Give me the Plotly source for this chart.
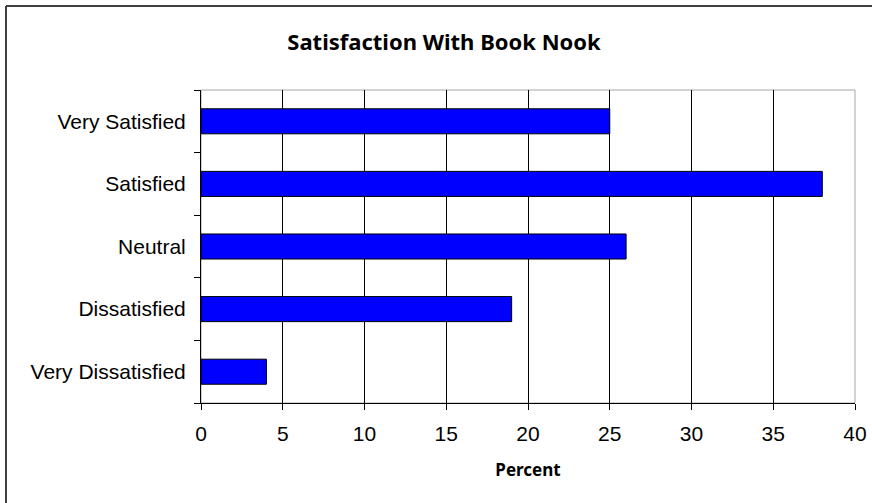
import plotly.graph_objects as go

# Survey responses (percent)
categories = ["Very Dissatisfied", "Dissatisfied", "Neutral", "Satisfied", "Very Satisfied"]
percents = [4, 19, 26, 38, 25]
x_ticks = [0, 5, 10, 15, 20, 25, 30, 35, 40]

W, H = 872, 503
ML, MR, MT, MB = 201, 17, 90, 100
PW, PH = W - ML - MR, H - MT - MB


def px_x(px):
    return (px - ML) / PW


def px_y(py):
    return (H - MB - py) / PH


fig = go.Figure(
    go.Bar(
        x=percents,
        y=categories,
        orientation="h",
        width=0.4,
        marker=dict(color="#0000FF", line=dict(color="#000000", width=1)),
        hoverinfo="x+y",
    )
)

shapes = [
    # plot-area frame (top/right edges in grey)
    dict(type="rect", xref="paper", yref="paper", x0=0, x1=1, y0=0, y1=1,
         line=dict(color="#a6a6a6", width=1), layer="below"),
    # outer chart frame
    dict(type="line", xref="paper", yref="paper",
         x0=px_x(6), x1=px_x(6), y0=px_y(6), y1=px_y(H + 5),
         line=dict(color="#404040", width=2)),
    dict(type="line", xref="paper", yref="paper",
         x0=px_x(6), x1=px_x(W + 5), y0=px_y(6), y1=px_y(6),
         line=dict(color="#404040", width=2)),
]

fig.update_layout(
    width=W,
    height=H,
    margin=dict(l=ML, r=MR, t=MT, b=MB, autoexpand=False),
    paper_bgcolor="white",
    plot_bgcolor="white",
    showlegend=False,
    title=dict(
        text="<b>Satisfaction With Book Nook</b>",
        font=dict(family="Noto Sans", size=22, color="#000000"),
        x=444 / W,
        xanchor="center",
        y=1 - 42 / H,
        yanchor="middle",
    ),
    shapes=shapes,
    xaxis=dict(
        range=[0, 40],
        automargin=False,
        tickvals=x_ticks,
        ticktext=[str(v) for v in x_ticks],
        showgrid=True,
        gridcolor="#000000",
        gridwidth=1,
        zeroline=False,
        showline=True,
        linecolor="#000000",
        linewidth=1,
        ticks="outside",
        ticklen=6,
        tickcolor="#000000",
        ticklabelstandoff=6,
        tickfont=dict(family="Liberation Sans", size=21, color="#000000"),
        title=dict(text="<b>Percent</b>",
                   font=dict(family="Noto Sans", size=17, color="#000000"),
                   standoff=19),
        fixedrange=True,
    ),
    yaxis=dict(
        categoryorder="array",
        categoryarray=categories,
        automargin=False,
        showgrid=False,
        zeroline=False,
        showline=True,
        linecolor="#000000",
        linewidth=1,
        ticks="outside",
        tickson="boundaries",
        ticklen=6,
        tickcolor="#000000",
        ticklabelstandoff=10,
        tickfont=dict(family="Liberation Sans", size=21, color="#000000"),
        fixedrange=True,
    ),
)

fig.write_html("out.html")
